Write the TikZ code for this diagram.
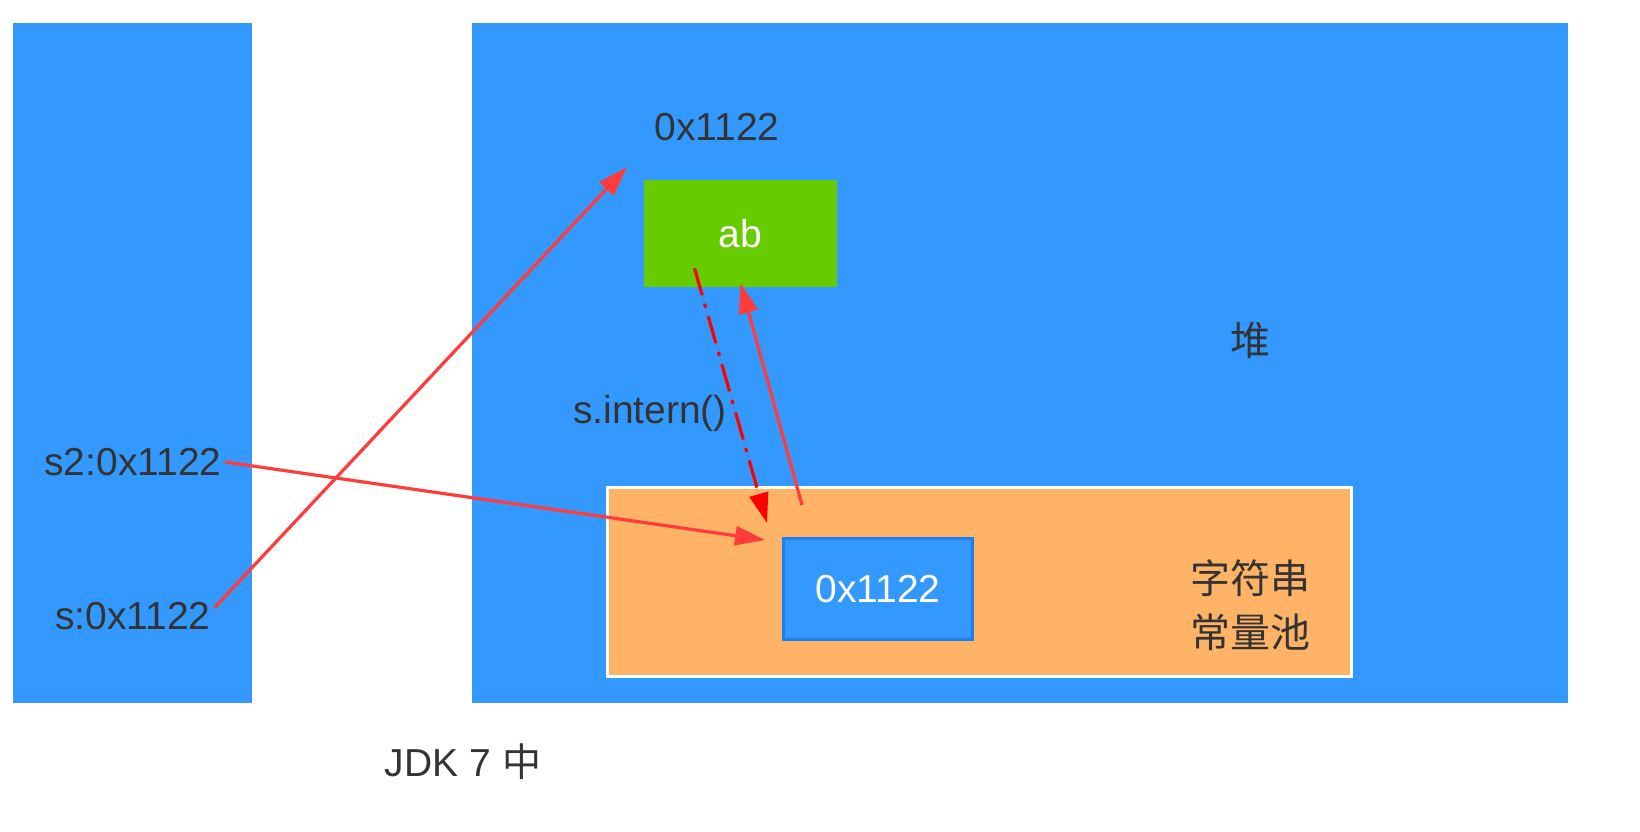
\documentclass[tikz,border=0pt]{standalone}
\usepackage{fontspec}
\setmainfont{Liberation Sans}
\newfontfamily\cjk{Noto Sans CJK SC}
\usepackage{xcolor}
\usetikzlibrary{arrows.meta}
\definecolor{heapblue}{HTML}{3399FF}
\definecolor{frameblue}{HTML}{1A80F2}
\definecolor{objgreen}{HTML}{66CC00}
\definecolor{poolorange}{HTML}{FFB366}
\definecolor{refred}{HTML}{FF3B3B}
\definecolor{darktext}{HTML}{333333}

\begin{document}
\begin{tikzpicture}[x = 1pt, y = -1pt,
                    >={Triangle[length = 30pt, width = 19pt]},
                    every node/.style = {font = \fontsize{39}{50}\selectfont, text = darktext},
                    ref/.style = {->, draw = refred, fill = refred, line width = 3.2pt},
                    box/.style = {text = white, inner sep = 0pt}]
    \useasboundingbox (0,0) rectangle (1640,832);

    % Draw the stack and the heap:
    \fill [heapblue] (13,23) rectangle (252,703);
    \fill [heapblue] (472,23) rectangle (1568,703);
    \node (heap) at (1250,340) {\cjk\fontsize{40}{54}\selectfont 堆};

    % Draw the string constant pool:
    \draw [white, line width = 3pt, fill = poolorange] (607,487) rectangle (1351,676);
    \node [align = center, font = \cjk\fontsize{40}{54}\selectfont] (pool) at (1250,605) {字符串\\常量池};

    % Draw the objects and the labels:
    \node [box, fill = objgreen, minimum width = 193pt, minimum height = 107pt] (ab) at (740.5,233.5) {ab};
    \node [box, fill = heapblue, draw = frameblue, line width = 3pt,
           minimum width = 189pt, minimum height = 101pt] (str) at (878,589) {0x1122};
    \node (addr) at (717,127) {0x1122};
    \node (s2) at (133,462) {s2:0x1122};
    \node (s) at (133,616) {s:0x1122};
    \node (intern) at (650,413) {s.intern()};
    \node (jdk) at (463,762) {JDK 7 {\cjk 中}};

    % Draw the references:
    \coordinate (addrtip) at (627,167);
    \draw [ref] ([yshift = 8pt]s.east) -- (addrtip);
    \draw [ref] (s2.east) -- ([xshift = -17pt, yshift = -3pt]str.north west);
    \draw [ref, draw = red, fill = red, dash pattern = on 28pt off 9pt on 4pt off 9pt]
        ([xshift = -46pt, yshift = 19pt]ab.south) -- ([xshift = -15pt, yshift = 14pt]str.north west);
    \draw [ref] ([xshift = 20pt, yshift = 32pt]str.north west) -- ([yshift = 4pt]ab.south);
\end{tikzpicture}
\end{document}
